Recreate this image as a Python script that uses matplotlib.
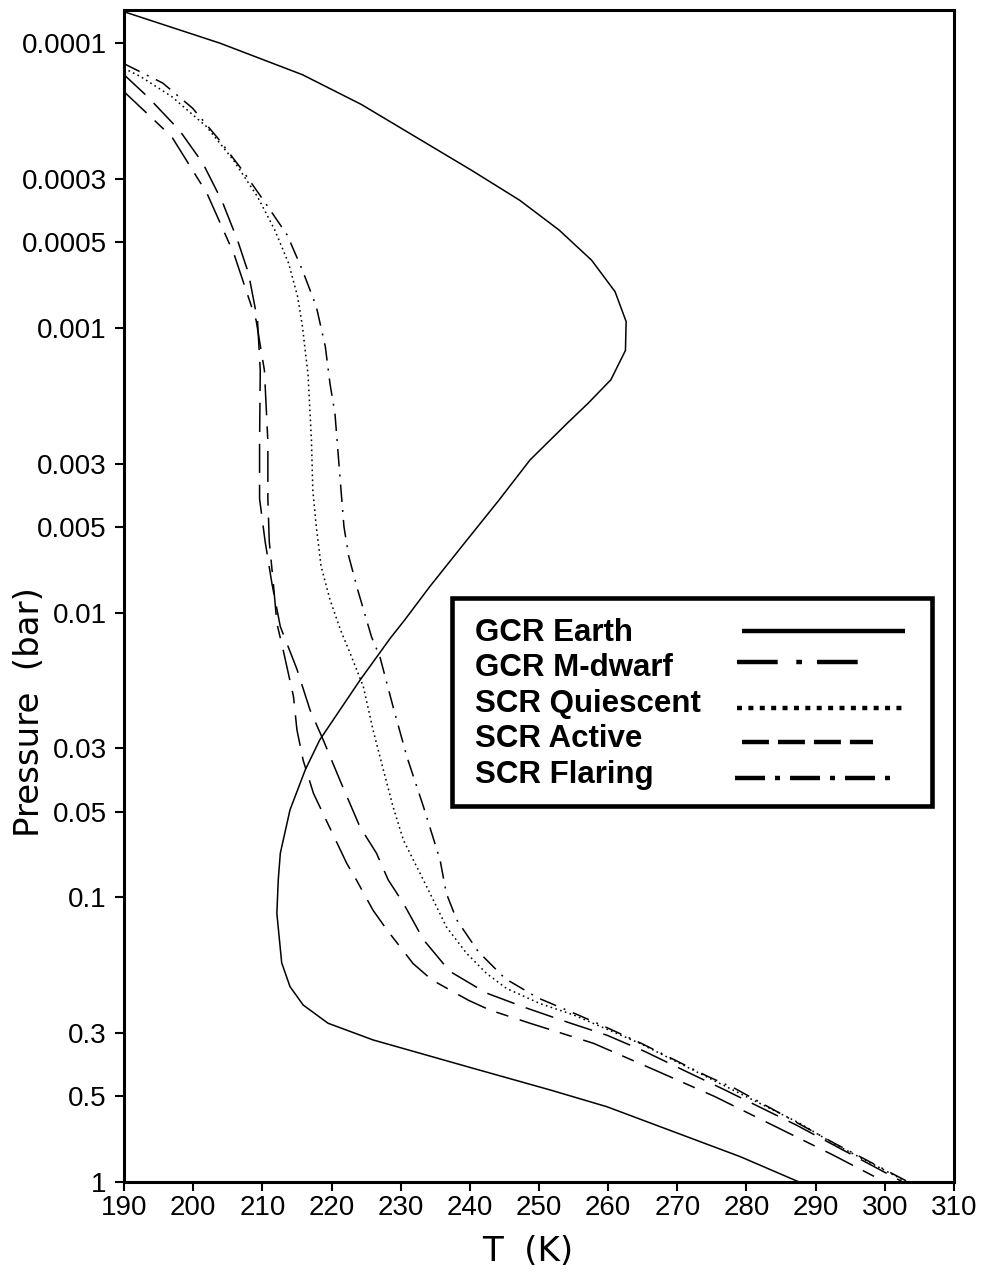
import matplotlib
matplotlib.use("Agg")
import matplotlib.pyplot as plt
from matplotlib.lines import Line2D
from matplotlib.patches import Rectangle
from matplotlib.ticker import FixedLocator, FixedFormatter, NullLocator

plt.rcParams['lines.scale_dashes'] = False
plt.rcParams['font.family'] = ['Liberation Sans', 'DejaVu Sans']

# ---------------- data (pressure in bar, temperature in K) ----------------
p_earth = [7.75e-5, 1.0e-4, 1.29e-4, 1.64e-4, 2.79e-4, 3.56e-4, 4.53e-4, 5.78e-4,
           7.46e-4, 9.5e-4, 1.2e-3, 1.52e-3, 1.84e-3, 2.16e-3, 2.91e-3, 4.03e-3,
           5.71e-3, 8.11e-3, 0.0106, 0.0123, 0.0173, 0.028, 0.0357, 0.0493, 0.07,
           0.087, 0.114, 0.17, 0.206, 0.239, 0.277, 0.317, 0.399, 0.475, 0.544,
           0.815, 1.0]
t_earth = [190.0, 203.9, 215.8, 224.3, 240.2, 247.2, 252.9, 257.6,
           261.0, 262.6, 262.5, 260.4, 257.1, 254.1, 248.7, 244.2,
           239.2, 234.2, 230.6, 228.5, 224.1, 218.3, 216.2, 214.0, 212.6,
           212.3, 212.1, 212.8, 214.0, 215.9, 219.5, 226.0, 240.5, 251.6, 259.8,
           279.1, 287.6]

p_mdwarf = [1.48e-4, 2.13e-4, 3.37e-4, 5.50e-4, 9.40e-4, 1.41e-3, 2.51e-3, 3.98e-3,
            5.62e-3, 7.94e-3, 0.0109, 0.0135, 0.0197, 0.0258, 0.0330, 0.0432,
            0.0760, 0.0869, 0.111, 0.130, 0.171, 0.195, 0.230, 0.249, 0.277,
            0.326, 0.405, 0.501, 0.804, 1.0]
t_mdwarf = [190.0, 196.9, 202.0, 205.9, 209.1, 210.3, 210.8, 210.8,
            211.0, 211.6, 212.1, 213.0, 214.5, 215.0, 215.9, 217.4,
            222.2, 223.6, 226.0, 228.0, 231.8, 234.5, 239.8, 242.9, 248.7,
            257.9, 266.8, 275.4, 292.5, 300.0]

p_quiescent = [1.225e-4, 1.31e-4, 1.54e-4, 1.96e-4, 2.57e-4, 3.46e-4, 4.53e-4, 5.93e-4,
               7.76e-4, 9.89e-4, 1.26e-3, 1.45e-3, 2.48e-3, 3.72e-3, 4.99e-3, 6.89e-3,
               9.04e-3, 0.0115, 0.0139, 0.0182, 0.0258, 0.0357, 0.0481, 0.0630,
               0.0824, 0.102, 0.127, 0.157, 0.185, 0.209, 0.236, 0.259, 0.326,
               0.427, 0.622, 0.731, 1.0]
t_quiescent = [190.0, 192.4, 196.9, 201.9, 205.8, 209.3, 211.8, 213.8,
               215.1, 215.8, 216.3, 216.6, 217.1, 217.3, 217.8, 218.5,
               219.8, 221.3, 222.7, 224.6, 226.0, 227.5, 228.9, 230.4,
               232.8, 234.7, 236.6, 239.5, 242.4, 245.3, 250.1, 255.0, 264.6,
               274.2, 287.7, 292.5, 303.2]

p_active = [1.29e-4, 1.54e-4, 2.02e-4, 2.64e-4, 3.60e-4, 4.91e-4, 6.43e-4, 9.40e-4,
            1.41e-3, 2.51e-3, 3.98e-3, 5.62e-3, 7.94e-3, 0.0112, 0.0158, 0.0220,
            0.0280, 0.0387, 0.0565, 0.0700, 0.0869, 0.105, 0.141, 0.182, 0.217,
            0.245, 0.274, 0.305, 0.348, 0.405, 0.469, 0.631, 1.0]
t_active = [190.0, 193.4, 198.0, 201.4, 204.2, 206.4, 208.0, 209.3,
            209.7, 209.6, 209.6, 210.4, 211.4, 212.6, 215.0, 216.9,
            218.8, 221.2, 224.1, 226.5, 228.2, 230.4, 233.3, 237.1, 242.4,
            248.2, 254.0, 259.8, 265.3, 270.9, 276.4, 287.2, 302.6]

p_flaring = [1.18e-4, 1.38e-4, 1.69e-4, 2.16e-4, 2.79e-4, 3.60e-4, 4.72e-4, 6.27e-4,
             8.41e-4, 1.16e-3, 1.58e-3, 2.0e-3, 3.52e-3, 4.99e-3, 6.35e-3, 8.34e-3,
             0.0122, 0.0143, 0.0214, 0.0321, 0.0481, 0.0740, 0.0968, 0.120, 0.155,
             0.193, 0.226, 0.255, 0.281, 0.326, 0.427, 0.469, 0.731, 1.0]
t_flaring = [190.0, 195.6, 199.9, 203.6, 207.1, 210.3, 213.6, 215.8,
             217.8, 219.1, 219.8, 220.5, 221.3, 221.8, 222.5, 223.8,
             225.8, 227.0, 228.9, 230.9, 233.3, 235.7, 236.6, 238.1, 241.2,
             245.1, 249.9, 255.0, 259.0, 264.8, 274.5, 278.3, 292.7, 303.4]

series_labels = ["GCR Earth", "GCR M-dwarf", "SCR Quiescent", "SCR Active", "SCR Flaring"]

ytick_values = [0.0001, 0.0003, 0.0005, 0.001, 0.003, 0.005, 0.01, 0.03, 0.05,
                0.1, 0.3, 0.5, 1]
ytick_labels = ["0.0001", "0.0003", "0.0005", "0.001", "0.003", "0.005", "0.01",
                "0.03", "0.05", "0.1", "0.3", "0.5", "1"]
xtick_values = [190, 200, 210, 220, 230, 240, 250, 260, 270, 280, 290, 300, 310]

# ---------------- styles ----------------
plot_styles = [
    '-',
    (0, (22.3, 8.0, 9.1, 8.6)),
    (0, (1.2, 2.4)),
    (0, (21.0, 8.5)),
    (0, (12.6, 5.8, 1.4, 5.8)),
]
legend_styles = [
    '-',
    (0, (29.3, 13.4, 4.1, 10.8)),
    (0, (3.6, 4.6)),
    (0, (19.4, 6.5)),
    (0, (21.6, 7.2, 3.6, 7.2)),
]

fig = plt.figure(figsize=(9.85, 12.76), dpi=100)
ax = fig.add_axes([0.1259, 0.0737, 0.8426, 0.9185])

series = [(t_earth, p_earth), (t_mdwarf, p_mdwarf), (t_quiescent, p_quiescent),
          (t_active, p_active), (t_flaring, p_flaring)]
for (t, p), ls in zip(series, plot_styles):
    ax.plot(t, p, color='black', lw=1.1, linestyle=ls,
            dash_capstyle='butt', solid_joinstyle='round')

ax.set_yscale('log')
ax.set_xlim(190, 310)
ax.set_ylim(1, 7.64e-5)
ax.yaxis.set_major_locator(FixedLocator(ytick_values))
ax.yaxis.set_major_formatter(FixedFormatter(ytick_labels))
ax.yaxis.set_minor_locator(NullLocator())
ax.set_xticks(xtick_values)
ax.xaxis.set_minor_locator(NullLocator())

ax.tick_params(axis='both', direction='out', length=6.5, width=1.5,
               labelsize=20, colors='black')
ax.tick_params(axis='y', pad=6)
ax.tick_params(axis='x', pad=3)
for sp in ax.spines.values():
    sp.set_linewidth(2.2)

ax.set_xlabel('T  (K)', fontsize=24.5, family='DejaVu Sans', va='center')
ax.xaxis.set_label_coords(0.486, -0.0597)
ax.set_ylabel('Pressure  (bar)', fontsize=24.5, family='DejaVu Sans',
              va='center', ha='center')
ax.yaxis.set_label_coords(-0.1135, 0.401)

# ---------------- legend box ----------------
box = Rectangle((0.3948, 0.3208), 0.9735 - 0.3948, 0.4983 - 0.3208,
                transform=ax.transAxes, facecolor='white', edgecolor='black',
                linewidth=3.3, zorder=5)
ax.add_patch(box)

text_y = [0.4619, 0.4315, 0.4011, 0.3708, 0.3404]
line_y = [0.4697, 0.4439, 0.4040, 0.3750, 0.3445]
line_x = [(0.7442, 0.9410), (0.7382, 0.8847), (0.7382, 0.9370),
          (0.7442, 0.9028), (0.7361, 0.9289)]
for lab, ty, ly, (x0, x1), ls in zip(series_labels, text_y, line_y, line_x, legend_styles):
    ax.text(0.4229, ty, lab, transform=ax.transAxes, fontsize=22.5,
            fontweight='bold', va='baseline', ha='left', zorder=6)
    ax.add_line(Line2D([x0, x1], [ly, ly], transform=ax.transAxes, color='black',
                       lw=3.2, linestyle=ls, dash_capstyle='butt',
                       solid_capstyle='butt', zorder=6))

ax.set_xlim(190, 310)
ax.set_ylim(1, 7.64e-5)

fig.savefig('out.png', dpi=100)
